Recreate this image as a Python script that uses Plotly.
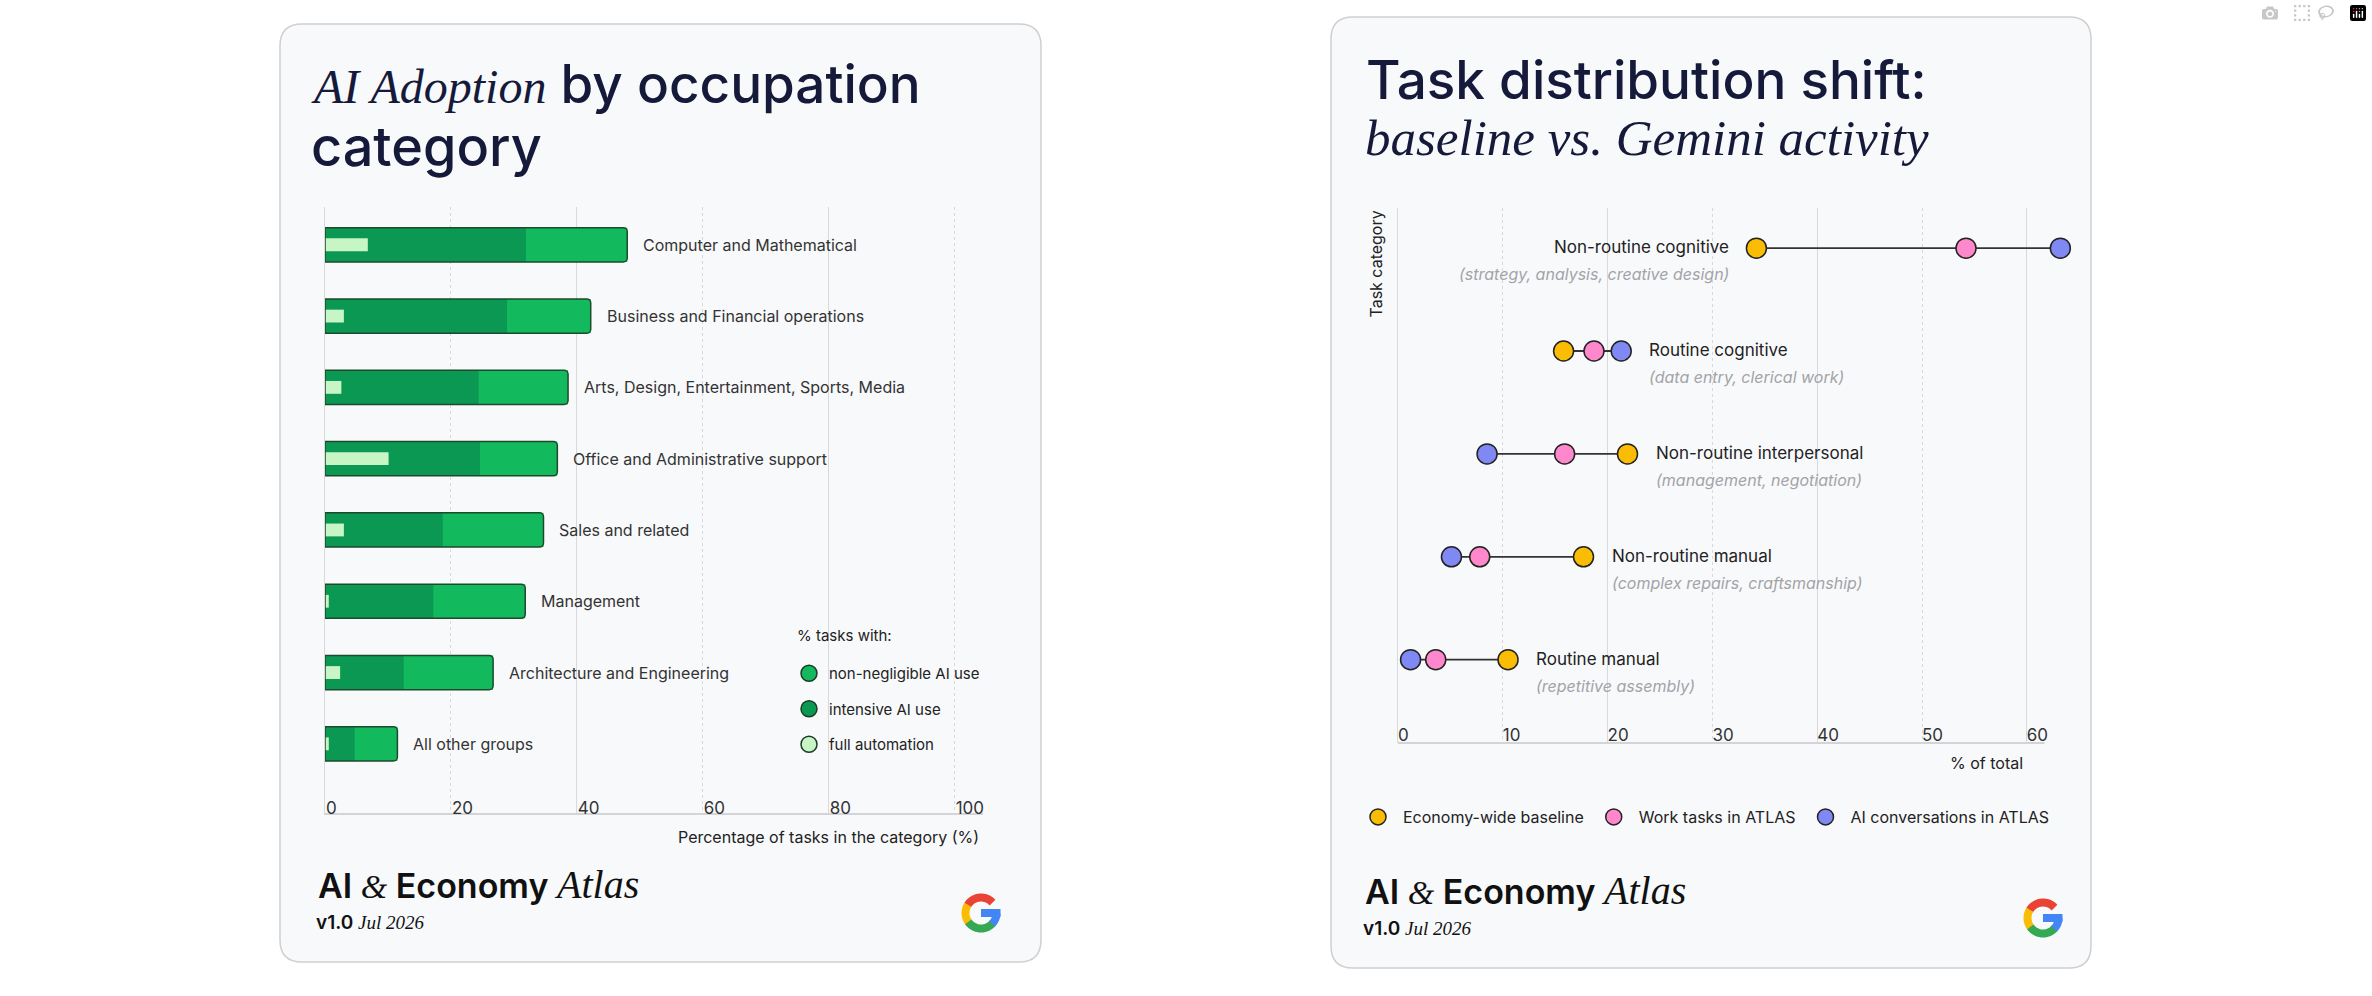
import numpy as np
import plotly.graph_objects as go

W, H = 2372, 996

# ---- left chart: AI adoption by occupation ----
occupations = ["Computer and Mathematical", "Business and Financial operations",
               "Arts, Design, Entertainment, Sports, Media", "Office and Administrative support",
               "Sales and related", "Management", "Architecture and Engineering", "All other groups"]
non_negligible = [48.0, 42.2, 38.6, 36.9, 34.7, 31.8, 26.7, 11.5]
intensive = [31.9, 28.9, 24.4, 24.6, 18.7, 17.2, 12.5, 4.7]
full_automation = [6.8, 3.0, 2.6, 10.1, 3.0, 0.6, 2.4, 0.6]
adoption_ticks = [0, 20, 40, 60, 80, 100]

# ---- right chart: task distribution shift ----
task_categories = ["Non-routine cognitive", "Routine cognitive", "Non-routine interpersonal",
                   "Non-routine manual", "Routine manual"]
task_examples = ["(strategy, analysis, creative design)", "(data entry, clerical work)",
                 "(management, negotiation)", "(complex repairs, craftsmanship)",
                 "(repetitive assembly)"]
baseline = [34.2, 15.8, 21.9, 17.7, 10.5]
work_tasks = [54.2, 18.7, 15.9, 7.8, 3.6]
ai_conversations = [63.2, 21.3, 8.5, 5.1, 1.2]
share_ticks = [0, 10, 20, 30, 40, 50, 60]

SANS = "Inter"
SERIF = "Liberation Serif"
NAVY = "#161a3a"
GREEN = "#13b95d"
DARK_GREEN = "#0a9852"
LIGHT_GREEN = "#c7f5c5"
GRID = "#d9d9dc"
AXIS = "#d4d4d8"


def px(x):
    return x / W


def py(y):
    return 1 - y / H


def rounded_rect(x0, y0, x1, y1, r):
    # pixel coords -> paper path
    pts = [
        ("M", x0 + r, y0), ("L", x1 - r, y0), ("Q", x1, y0, x1, y0 + r),
        ("L", x1, y1 - r), ("Q", x1, y1, x1 - r, y1), ("L", x0 + r, y1),
        ("Q", x0, y1, x0, y1 - r), ("L", x0, y0 + r), ("Q", x0, y0, x0 + r, y0),
    ]
    out = ""
    for p in pts:
        cmd, coords = p[0], p[1:]
        pairs = [f"{px(coords[i]):.5f},{py(coords[i + 1]):.5f}" for i in range(0, len(coords), 2)]
        out += cmd + " ".join(pairs) + " "
    return out + "Z"


def arc(cx, cy, r, a0, a1, n=20):
    a = np.radians(np.linspace(a0, a1, n))
    xs = cx + r * np.cos(a)
    ys = cy - r * np.sin(a)
    return "M" + " L".join(f"{px(x):.5f},{py(y):.5f}" for x, y in zip(xs, ys))


def google_g(cx, cy):
    shapes = []
    for color, a0, a1 in [("#ea4335", 42, 150), ("#fbbc05", 148, 217),
                          ("#34a853", 215, 318), ("#4285f4", 316, 360)]:
        shapes.append(dict(type="path", path=arc(cx, cy, 15.5, a0, a1), xref="paper", yref="paper",
                           line=dict(color=color, width=8), layer="above"))
    shapes.append(dict(type="rect", xref="paper", yref="paper", x0=px(cx), x1=px(cx + 19.5),
                       y0=py(cy + 4), y1=py(cy - 4), fillcolor="#4285f4", line=dict(width=0)))
    return shapes


fig = go.Figure()

# overlay bars: non-negligible > intensive > full automation
fig.add_trace(go.Bar(x=non_negligible, y=occupations, orientation="h", width=0.48,
                     marker=dict(color=GREEN, line=dict(width=0)), showlegend=False, hoverinfo="x+y"))
fig.add_trace(go.Bar(x=intensive, y=occupations, orientation="h", width=0.48,
                     marker=dict(color=DARK_GREEN, line=dict(width=0)), showlegend=False, hoverinfo="x+y"))
fig.add_trace(go.Bar(x=full_automation, y=occupations, orientation="h", width=0.18,
                     marker=dict(color=LIGHT_GREEN, line=dict(width=0)), showlegend=False, hoverinfo="x+y"))
fig.add_trace(go.Bar(x=non_negligible, y=occupations, orientation="h", width=0.48,
                     marker=dict(color="rgba(0,0,0,0)", line=dict(color="#1d4a2c", width=1.5),
                                 cornerradius=4),
                     showlegend=False, hoverinfo="skip"))

for name, color in [("non-negligible AI use", GREEN), ("intensive AI use", DARK_GREEN),
                    ("full automation", LIGHT_GREEN)]:
    fig.add_trace(go.Scatter(x=[None], y=[None], mode="markers", name=name, legend="legend",
                             legendgroup=name,
                             marker=dict(size=20, color=color, line=dict(color="#1d3b28", width=1.5))))

# dumbbells
for i, cat in enumerate(task_categories):
    vals = [baseline[i], work_tasks[i], ai_conversations[i]]
    fig.add_trace(go.Scatter(x=[min(vals), max(vals)], y=[cat, cat], mode="lines",
                             line=dict(color="#333333", width=1.8), xaxis="x2", yaxis="y2",
                             showlegend=False, hoverinfo="skip"))

for name, vals, color in [("Economy-wide baseline", baseline, "#fbbc04"),
                          ("Work tasks in ATLAS", work_tasks, "#ff88cc"),
                          ("AI conversations in ATLAS", ai_conversations, "#8088f4")]:
    fig.add_trace(go.Scatter(x=vals, y=task_categories, mode="markers", name=name,
                             xaxis="x2", yaxis="y2", legend="legend2", cliponaxis=False,
                             marker=dict(size=20, color=color, line=dict(color="#222222", width=1.5))))

annotations = []

# bar labels
for occ, v in zip(occupations, non_negligible):
    annotations.append(dict(x=v, y=occ, xref="x", yref="y", text=occ, showarrow=False,
                            xanchor="left", xshift=14, font=dict(family=SANS, size=16, color="#333333")))

# dumbbell labels
for cat, ex, b, w, a in zip(task_categories, task_examples, baseline, work_tasks, ai_conversations):
    lo, hi = min(b, w, a), max(b, w, a)
    if hi > 40:
        xv, anchor, shift = lo, "right", -25
    else:
        xv, anchor, shift = hi, "left", 26
    annotations.append(dict(x=xv, y=cat, xref="x2", yref="y2", text=cat, showarrow=False,
                            xanchor=anchor, xshift=shift, yshift=1,
                            font=dict(family=SANS, size=17, color="#222222")))
    annotations.append(dict(x=xv, y=cat, xref="x2", yref="y2", text=f"<i>{ex}</i>", showarrow=False,
                            xanchor=anchor, xshift=shift, yshift=-26,
                            font=dict(family=SANS, size=16, color="#a3a3a8")))

serif_i = "<span style='font-family:" + SERIF + ";font-size:{}px'><i>{}</i></span>"

# titles
annotations += [
    dict(x=px(309), y=py(84), text=serif_i.format(48, "AI Adoption") + " by occupation",
         font=dict(family=SANS, size=53, color=NAVY, weight=500)),
    dict(x=px(309), y=py(146), text="category", font=dict(family=SANS, size=54, color=NAVY, weight=500)),
    dict(x=px(1364), y=py(80), text="Task distribution shift:",
         font=dict(family=SANS, size=53, color=NAVY, weight=500)),
    dict(x=px(1363), y=py(138), text=serif_i.format(51, "baseline vs. Gemini activity"),
         font=dict(family=SERIF, size=51, color=NAVY)),
    dict(x=px(981), y=py(837), xanchor="right", text="Percentage of tasks in the category (%)",
         font=dict(family=SANS, size=16, color="#222222")),
    dict(x=px(2025), y=py(763), xanchor="right", text="% of total",
         font=dict(family=SANS, size=16, color="#222222")),
    dict(x=px(1376), y=py(209), xanchor="center", yanchor="top", textangle=-90, text="Task category",
         font=dict(family=SANS, size=16, color="#222222")),
    dict(x=px(795), y=py(635), text="% tasks with:", font=dict(family=SANS, size=15, color="#222222")),
]

# footers
for fx, fy in [(316, 884), (1363, 890)]:
    annotations.append(dict(
        x=px(fx), y=py(fy),
        text="AI <span style='font-family:" + SERIF + ";font-weight:400'><i>&amp;</i></span> Economy "
             "<span style='font-family:" + SERIF + ";font-weight:400;font-size:40px'><i>Atlas</i></span>",
        font=dict(family=SANS, size=34, color="#111111", weight=600)))
    annotations.append(dict(
        x=px(fx - 2), y=py(fy + 38),
        text="v1.0 <span style='font-family:" + SERIF + ";font-weight:400'><i>Jul 2026</i></span>",
        font=dict(family=SANS, size=19, color="#111111", weight=600)))

for a in annotations:
    a.setdefault("xref", "paper")
    a.setdefault("yref", "paper")
    a.setdefault("showarrow", False)
    a.setdefault("xanchor", "left")
    a.setdefault("yanchor", "middle")

shapes = [
    dict(type="path", path=rounded_rect(280, 24, 1041, 962, 22), xref="paper", yref="paper",
         fillcolor="#f8f9fb", line=dict(color="#cfcfd2", width=1.5), layer="below"),
    dict(type="path", path=rounded_rect(1331, 17, 2091, 968, 22), xref="paper", yref="paper",
         fillcolor="#f8f9fb", line=dict(color="#cfcfd2", width=1.5), layer="below"),
    # bottom axis line of the dumbbell chart stops short of the last dot
    dict(type="line", xref="x2", yref="y2 domain", x0=0, x1=61.7, y0=0, y1=0,
         line=dict(color=AXIS, width=2), layer="below"),
]
shapes += google_g(981, 913) + google_g(2043, 918)

axis_common = dict(showgrid=True, gridcolor=GRID, griddash="dot", gridwidth=1,
                   zeroline=False, linecolor=AXIS, linewidth=2,
                   ticks="", ticklabelposition="inside right", ticklabelstandoff=-7,
                   ticklabeloverflow="allow",
                   tickfont=dict(family=SANS, size=17, color="#333333"), fixedrange=True)

fig.update_layout(
    width=W, height=H, margin=dict(l=0, r=0, t=0, b=0),
    paper_bgcolor="white", plot_bgcolor="rgba(0,0,0,0)",
    barmode="overlay", font=dict(family=SANS),
    xaxis=dict(domain=[px(325), px(983)], range=[0, 104.5], tickmode="array", tickvals=adoption_ticks,
               minor=dict(tickmode="array", tickvals=[40, 80], showgrid=True, gridcolor=GRID,
                          griddash="solid", ticks=""),
               anchor="y", showline=True, **axis_common),
    yaxis=dict(domain=[py(813), py(207)], type="category", categoryorder="array",
               categoryarray=occupations, range=[7.97, -0.53], showgrid=False,
               showticklabels=False, showline=True, linecolor=GRID, linewidth=1,
               zeroline=False, ticks="", anchor="x", fixedrange=True),
    xaxis2=dict(domain=[px(1398), px(1398 + 64.5 * 10.48)], range=[0, 64.5], tickmode="array",
                tickvals=share_ticks,
                minor=dict(tickmode="array", tickvals=[20, 40, 60], showgrid=True, gridcolor=GRID,
                           griddash="solid", ticks=""),
                anchor="y2", showline=False, **axis_common),
    yaxis2=dict(domain=[py(743), py(208)], type="category", categoryorder="array",
                categoryarray=task_categories, range=[4.81, -0.39], showgrid=False,
                showticklabels=False, showline=True, linecolor=GRID, linewidth=1,
                zeroline=False, ticks="", anchor="x2", fixedrange=True),
    legend=dict(x=px(789), y=py(657), xanchor="left", yanchor="top", bgcolor="rgba(0,0,0,0)",
                font=dict(family=SANS, size=15, color="#222222"), tracegroupgap=13,
                itemsizing="trace", itemclick=False),
    legend2=dict(x=px(1353), y=py(817), xanchor="left", yanchor="middle", orientation="h",
                 bgcolor="rgba(0,0,0,0)", font=dict(family=SANS, size=16, color="#222222"),
                 itemwidth=40, itemclick=False),
    annotations=annotations,
    shapes=shapes,
    hovermode="closest",
)

fig.write_html("out.html", post_script="document.body.style.margin='0';")
